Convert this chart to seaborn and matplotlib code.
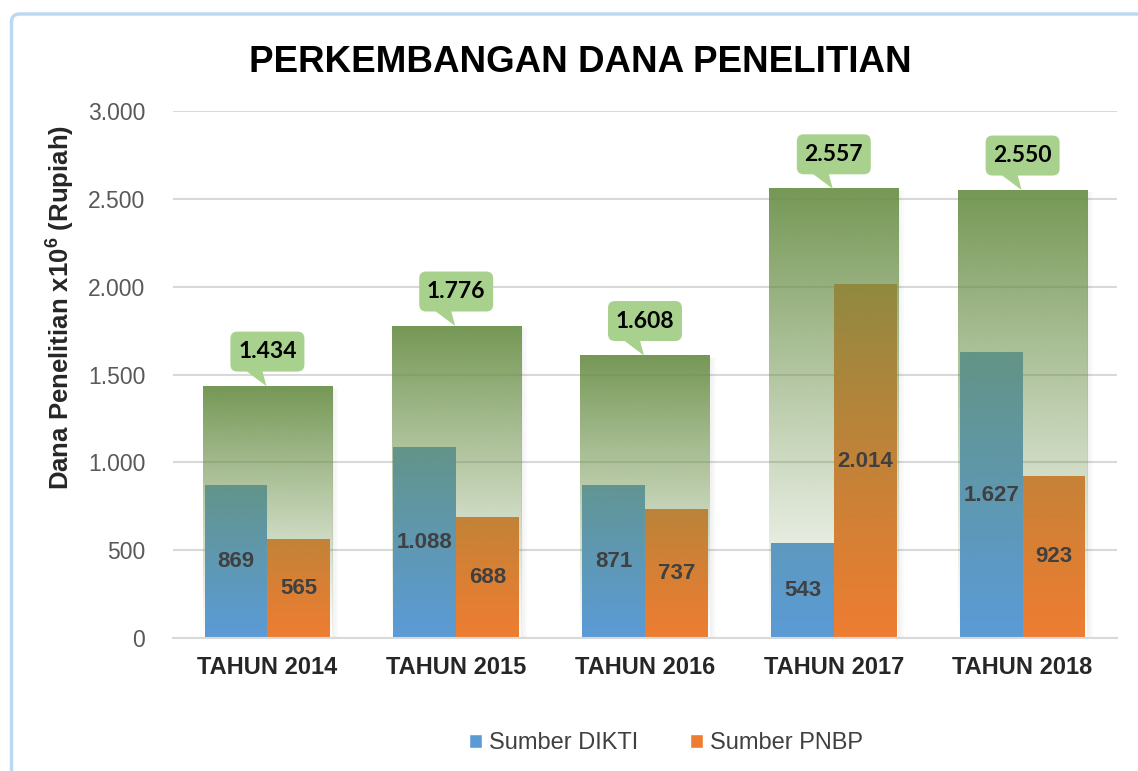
import numpy as np
import pandas as pd
import matplotlib
matplotlib.use('Agg')
import matplotlib.pyplot as plt
import matplotlib.transforms as mtransforms
from matplotlib.patches import FancyBboxPatch, Polygon, Rectangle, Patch
import seaborn as sns

# data
tahun = ['TAHUN 2014', 'TAHUN 2015', 'TAHUN 2016', 'TAHUN 2017', 'TAHUN 2018']
dikti = [869, 1088, 871, 543, 1627]
pnbp = [565, 688, 737, 2014, 923]
total = [1434, 1776, 1608, 2557, 2550]
sumber = ['Sumber DIKTI', 'Sumber PNBP']

def fmt(v):
    return f'{v:,}'.replace(',', '.')

df = pd.DataFrame({
    'tahun': tahun * 2,
    'sumber': [sumber[0]] * len(tahun) + [sumber[1]] * len(tahun),
    'nilai': dikti + pnbp,
})
df_total = pd.DataFrame({'tahun': tahun, 'total': total})

sns.set_theme(style='white')
plt.rcParams['font.family'] = ['Liberation Sans', 'DejaVu Sans']

fig = plt.figure(figsize=(11.38, 7.71), dpi=100)
ax = fig.add_axes([173/1138, 1-638/771, 944/1138, 527/771])

# blue / orange bars
sns.barplot(data=df, x='tahun', y='nilai', hue='sumber', hue_order=sumber,
            palette=['#5B9BD5', '#ED7D31'], width=0.665, saturation=1,
            legend=False, ax=ax, zorder=2, linewidth=0)
# total bars, drawn invisible then filled with a green fade
sns.barplot(data=df_total, x='tahun', y='total', color='white', width=0.685,
            saturation=1, ax=ax, alpha=0, linewidth=0)

ax.set_ylim(0, 3000)
ax.set_xlim(-0.5, len(tahun) - 0.5)

grad = np.zeros((256, 1, 4))
grad[:, 0, 0] = 106/255
grad[:, 0, 1] = 143/255
grad[:, 0, 2] = 71/255
grad[:, 0, 3] = np.linspace(0, 0.93, 256) ** 1.1

green_bars = ax.containers[-1].patches
for p in green_bars:
    x0, w, h = p.get_x(), p.get_width(), p.get_height()
    ax.imshow(grad, extent=[x0, x0 + w, 0, h], origin='lower', aspect='auto',
              interpolation='bicubic', zorder=3)
    # soft shadow on the right
    tr = fig.dpi_scale_trans + mtransforms.ScaledTranslation(x0 + w, 0, ax.transData)
    hin = (ax.transData.transform((0, h))[1] - ax.transData.transform((0, 0))[1]) / fig.dpi
    for k, a in enumerate([0.10, 0.07, 0.04]):
        ax.add_patch(Rectangle((0.02 * k, 0), 0.02, hin - 0.02, transform=tr,
                               facecolor='gray', alpha=a, lw=0, zorder=1.5))

ax.set_xlim(-0.5, len(tahun) - 0.5)
ax.set_ylim(0, 3000)

# value labels inside colored bars
for cont in ax.containers[:2]:
    for p in cont.patches:
        h = p.get_height()
        ax.text(p.get_x() + p.get_width() / 2, h / 2, fmt(int(round(h))),
                ha='center', va='center', fontsize=16, fontweight='bold',
                color='#404040', zorder=5)

# callouts with totals
for i, p in enumerate(green_bars):
    cx = p.get_x() + p.get_width() / 2
    tr = fig.dpi_scale_trans + mtransforms.ScaledTranslation(cx, total[i], ax.transData)
    box = FancyBboxPatch((-0.37, 0.145), 0.74, 0.40,
                         boxstyle='round,pad=0,rounding_size=0.07',
                         transform=tr, facecolor='#A9D18E', edgecolor='none',
                         zorder=6, clip_on=False)
    ax.add_patch(box)
    ax.add_patch(Polygon([(-0.21, 0.15), (-0.05, 0.15), (-0.01, 0.0)], closed=True,
                         transform=tr, facecolor='#A9D18E', edgecolor='none',
                         zorder=6, clip_on=False))
    ax.text(0, 0.345, fmt(total[i]), transform=tr, ha='center', va='center',
            fontsize=16.5, fontweight='bold', family=['Lato', 'DejaVu Sans'],
            color='black', zorder=7, clip_on=False)

ax.set_yticks(np.arange(0, 3001, 500))
ax.set_yticklabels([fmt(v) for v in range(0, 3001, 500)])
ax.yaxis.grid(True, color='#D9D9D9', lw=1.5, zorder=0)
ax.set_axisbelow(True)
for s in ['top', 'right', 'left']:
    ax.spines[s].set_visible(False)
ax.spines['bottom'].set_color('#D9D9D9')
ax.spines['bottom'].set_linewidth(1.5)
ax.tick_params(axis='y', length=0, pad=20, labelsize=16.5, labelcolor='#595959')
ax.tick_params(axis='x', length=0, pad=13, labelsize=17)
for t in ax.get_xticklabels():
    t.set_fontweight('bold')
    t.set_color('#262626')

ax.set_xlabel('')
ax.set_ylabel('Dana Penelitian x10$\\mathregular{^6}$ (Rupiah)', fontsize=18.5,
              fontweight='bold', color='#262626')
ax.yaxis.set_label_coords(-0.102, 0.628)

fig.text(580/1138, 1-62/771, 'PERKEMBANGAN DANA PENELITIAN', ha='center', va='center',
         fontsize=26.5, fontweight='bold', color='black')

handles = [Patch(facecolor='#5B9BD5'), Patch(facecolor='#ED7D31')]
fig.legend(handles, sumber, loc='center', bbox_to_anchor=(666/1138, 1-743/771),
           ncol=2, frameon=False, fontsize=17, handlelength=0.55, handleheight=0.55,
           handletextpad=0.3, columnspacing=2.2, labelcolor='#404040')

# light blue frame
frame = FancyBboxPatch((0.115, -1.0), 13.0, 7.71 - 0.14 + 1.0,
                       boxstyle='round,pad=0,rounding_size=0.08',
                       transform=fig.dpi_scale_trans, facecolor='none',
                       edgecolor='#BDD9F2', lw=2.5)
fig.patches.append(frame)

fig.savefig('out.png', dpi=100)
